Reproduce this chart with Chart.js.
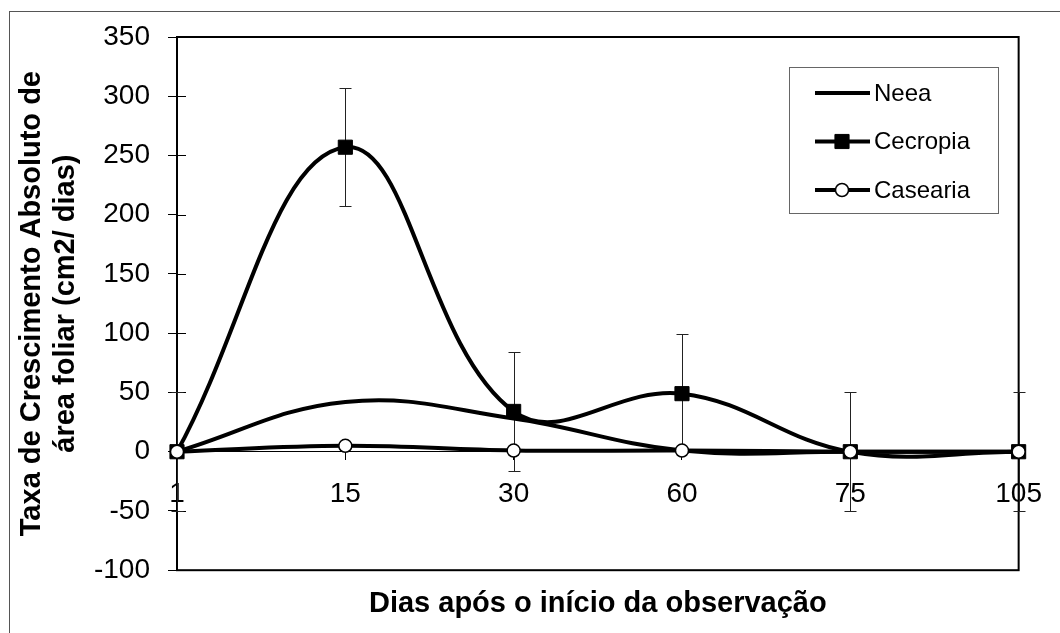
<!DOCTYPE html>
<html>
<head>
<meta charset="utf-8">
<script src="https://cdn.jsdelivr.net/npm/chart.js@4"></script>
<style>
  html, body { margin: 0; padding: 0; background: #fff; }
  canvas { display: block; }
</style>
</head>
<body>
<canvas id="growth" width="1060" height="633"></canvas>
<script>
// dias de observação (eixo x)
const days = ['1', '15', '30', '60', '75', '105'];

// taxa de crescimento absoluto (cm2/dias)
const neea = [0, 42, 28, 1, 0, 0];
const cecropia = [0, 257, 34, 49, 0, 0];
const cecropiaErr = [50, 50, 50, 50, 50, 50];
const casearia = [0, 5, 1, 1, 0, 0];

const yMin = -100;
const yMax = 350;
const yStep = 50;

const legendOrder = ['Neea', 'Cecropia', 'Casearia'];

const FONT = '"Liberation Sans", Arial, sans-serif';

// fundo branco + moldura externa
const frame = {
    id: 'frame',
    beforeDraw(chart) {
        const c = chart.ctx;
        c.save();
        c.fillStyle = '#fff';
        c.fillRect(0, 0, chart.width, chart.height);
        c.strokeStyle = '#555';
        c.lineWidth = 1;
        c.strokeRect(9.5, 11.5, chart.width + 50, chart.height + 50);
        c.restore();
    }
};

// caixa da área do gráfico, traços internos do eixo y e barras de erro
const plotBox = {
    id: 'plotBox',
    beforeDatasetsDraw(chart) {
        const c = chart.ctx;
        const a = chart.chartArea;
        const x = chart.scales.x;
        const y = chart.scales.y;
        c.save();
        c.strokeStyle = '#000';
        c.lineWidth = 2;
        c.strokeRect(a.left, a.top, a.right - a.left, a.bottom - a.top);

        c.lineWidth = 1;
        y.ticks.forEach(t => {
            const py = Math.round(y.getPixelForValue(t.value)) + 0.5;
            c.beginPath();
            c.moveTo(a.left, py);
            c.lineTo(a.left + 9, py);
            c.stroke();
        });

        c.strokeStyle = '#222';
        cecropia.forEach((v, i) => {
            const px = Math.round(x.getPixelForValue(i)) + 0.5;
            const top = Math.round(y.getPixelForValue(v + cecropiaErr[i])) + 0.5;
            const bot = Math.round(y.getPixelForValue(v - cecropiaErr[i])) + 0.5;
            c.beginPath();
            c.moveTo(px, top);
            c.lineTo(px, bot);
            c.moveTo(px - 6, top);
            c.lineTo(px + 6, top);
            c.moveTo(px - 6, bot);
            c.lineTo(px + 6, bot);
            c.stroke();
        });
        c.restore();
    }
};

function drawMarker(c, ds, x, y) {
    if (!ds.pointRadius) return;
    c.lineWidth = ds.pointBorderWidth;
    c.strokeStyle = ds.pointBorderColor;
    c.fillStyle = ds.pointBackgroundColor;
    c.beginPath();
    if (ds.pointStyle === 'rect') {
        const s = Math.SQRT1_2 * ds.pointRadius;
        c.rect(x - s, y - s, 2 * s, 2 * s);
    } else {
        c.arc(x, y, ds.pointRadius, 0, Math.PI * 2);
    }
    c.fill();
    c.stroke();
}

// legenda dentro do gráfico
const boxLegend = {
    id: 'boxLegend',
    afterDraw(chart) {
        const c = chart.ctx;
        c.save();
        c.fillStyle = '#fff';
        c.strokeStyle = '#666';
        c.lineWidth = 1;
        c.fillRect(789.5, 67.5, 209, 146);
        c.strokeRect(789.5, 67.5, 209, 146);
        c.font = '24px ' + FONT;
        c.textBaseline = 'middle';
        legendOrder.forEach((name, i) => {
            const ds = chart.data.datasets.find(d => d.label === name);
            const ly = 93 + i * 48.5;
            c.strokeStyle = '#000';
            c.lineWidth = 4;
            c.beginPath();
            c.moveTo(815, ly);
            c.lineTo(870, ly);
            c.stroke();
            drawMarker(c, ds, 842, ly);
            c.fillStyle = '#000';
            c.fillText(name, 874, ly + 1);
        });
        c.restore();
    }
};

const baseLine = {
    borderColor: '#000',
    borderWidth: 4,
    tension: 0.4,
    fill: false,
    clip: false
};

new Chart(document.getElementById('growth'), {
    type: 'line',
    data: {
        labels: days,
        datasets: [
            Object.assign({}, baseLine, {
                label: 'Casearia',
                data: casearia,
                pointStyle: 'circle',
                pointRadius: 6.5,
                pointBorderWidth: 1.5,
                pointBorderColor: '#000',
                pointBackgroundColor: '#fff'
            }),
            Object.assign({}, baseLine, {
                label: 'Cecropia',
                data: cecropia,
                pointStyle: 'rect',
                pointRadius: 10,
                pointBorderWidth: 1,
                pointBorderColor: '#000',
                pointBackgroundColor: '#000'
            }),
            Object.assign({}, baseLine, {
                label: 'Neea',
                data: neea,
                pointRadius: 0
            })
        ]
    },
    options: {
        responsive: false,
        animation: false,
        events: [],
        layout: { padding: { top: 37, right: 37, left: 0, bottom: 0 } },
        scales: {
            x: {
                type: 'category',
                position: { y: 0 },
                offset: false,
                grid: {
                    display: true,
                    drawOnChartArea: false,
                    drawTicks: true,
                    tickLength: 8,
                    color: '#000',
                    lineWidth: 1
                },
                border: { display: true, color: '#000', width: 1 },
                ticks: {
                    color: '#000',
                    font: { family: FONT, size: 28 },
                    padding: 18,
                    maxRotation: 0,
                    autoSkip: false
                }
            },
            y: {
                min: yMin,
                max: yMax,
                afterFit(scale) { scale.width = 177; },
                grid: {
                    drawOnChartArea: false,
                    drawTicks: true,
                    tickLength: 9,
                    color: '#000'
                },
                border: { display: false },
                ticks: {
                    stepSize: yStep,
                    color: '#000',
                    padding: 18,
                    font: { family: FONT, size: 28 }
                },
                title: {
                    display: true,
                    text: ['Taxa de Crescimento Absoluto de', 'área foliar (cm2/ dias)'],
                    color: '#000',
                    font: { family: FONT, size: 29, weight: 'bold', lineHeight: 1.17 },
                    padding: { top: 15, bottom: 0 }
                }
            }
        },
        plugins: {
            legend: { display: false },
            tooltip: { enabled: false },
            title: {
                display: true,
                text: 'Dias após o início da observação',
                position: 'bottom',
                fullSize: false,
                color: '#000',
                font: { family: FONT, size: 29, weight: 'bold' },
                padding: { top: 16, bottom: 12 }
            }
        }
    },
    plugins: [frame, plotBox, boxLegend]
});
</script>
</body>
</html>
